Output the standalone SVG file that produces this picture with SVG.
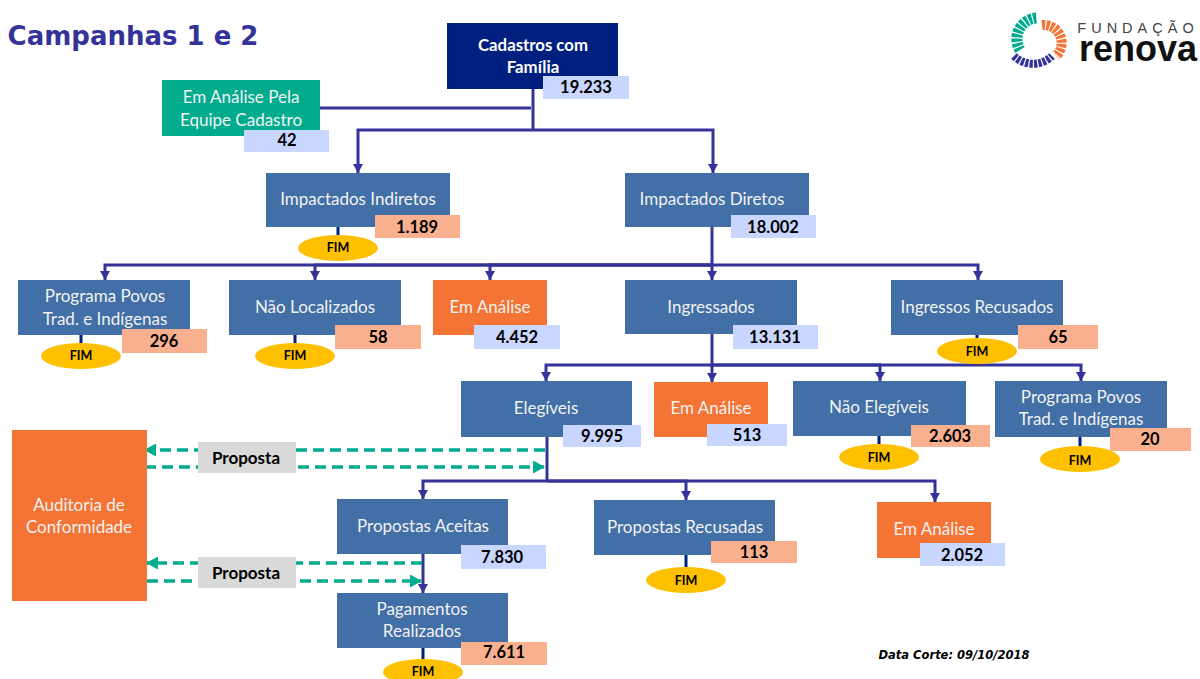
<svg xmlns="http://www.w3.org/2000/svg" width="1200" height="679" viewBox="0 0 1200 679">
<style>
text{font-family:Lato,"Open Sans",sans-serif;text-anchor:middle}
.b{fill:#416fa6}.o{fill:#f37435}.g{fill:#00ab8e}.n{fill:#00207f}
.lb{fill:#c9d6ff}.lo{fill:#f8b08e}.p{fill:#d9d9d9}
.t{fill:#f2f2f2;font-size:17px}
.v{fill:#000;font-size:16.5px;font-weight:700}
.f{fill:#000;font-size:12.5px;font-weight:700}
.e{fill:#ffc000}
.c{fill:none;stroke:#333399;stroke-width:3}
.s{fill:none;stroke:#002080;stroke-width:3}
.d{fill:none;stroke:#00ab8e;stroke-width:3.5;stroke-dasharray:11 6}
.pt{fill:#000;font-size:17px;font-weight:700}
.w{fill:#fff;font-size:16.8px;font-weight:700}
</style>
<defs>
<marker id="a" markerUnits="userSpaceOnUse" markerWidth="10" markerHeight="10" refX="9" refY="5" orient="auto"><path d="M0 0L9 5L0 10z" fill="#333399"/></marker>
<marker id="g" markerUnits="userSpaceOnUse" markerWidth="13" markerHeight="13" refX="11" refY="6.5" orient="auto"><path d="M0 0L12 6.5L0 13z" fill="#00ab8e"/></marker>
</defs>
<rect width="1200" height="679" fill="#fff"/>
<text x="133" y="45" style="font-family:'DejaVu Sans',sans-serif;font-size:26px;font-weight:700;fill:#333399">Campanhas 1 e 2</text>
<g id="logo">
<path d="M1020 50A21 21 0 0 1 1037 18" fill="none" stroke="#00ab8e" stroke-width="11" stroke-dasharray="3.2 1.2"/>
<path d="M1042 25A18 18 0 0 1 1056 56" fill="none" stroke="#f37435" stroke-width="10" stroke-dasharray="3.2 1.2"/>
<path d="M1014 56A27 27 0 0 0 1052 56" fill="none" stroke="#333399" stroke-width="8" stroke-dasharray="3.2 1.2"/>
<text x="1138" y="33" style="font-family:'Liberation Sans',sans-serif;font-size:14.5px;letter-spacing:5px;fill:#444">FUNDAÇÃO</text>
<text x="1138" y="61" style="font-family:'Liberation Sans',sans-serif;font-size:36px;font-weight:700;fill:#111">renova</text>
</g>
<g id="connectors">
<path class="c" d="M320 108H531" stroke-width="2.5"/>
<path class="c" d="M533 89V130"/>
<path class="c" marker-end="url(#a)" d="M533 130H358V173"/>
<path class="c" marker-end="url(#a)" d="M533 130H713V173"/>
<path class="c" d="M712 227V265"/>
<path class="c" marker-end="url(#a)" d="M712 265H105V280"/>
<path class="c" marker-end="url(#a)" d="M712 265H315V280"/>
<path class="c" marker-end="url(#a)" d="M712 265H490V280"/>
<path class="c" marker-end="url(#a)" d="M712 265V280"/>
<path class="c" marker-end="url(#a)" d="M712 265H978V280"/>
<path class="c" d="M712 334V367"/>
<path class="c" marker-end="url(#a)" d="M712 365H546V381"/>
<path class="c" marker-end="url(#a)" d="M712 365V382"/>
<path class="c" marker-end="url(#a)" d="M712 365H880V381"/>
<path class="c" marker-end="url(#a)" d="M712 365H1081V381"/>
<path class="c" d="M547 437V481"/>
<path class="c" marker-end="url(#a)" d="M547 481H423V499"/>
<path class="c" marker-end="url(#a)" d="M547 481H686V500"/>
<path class="c" marker-end="url(#a)" d="M547 481H935V502"/>
<path class="c" marker-end="url(#a)" d="M423 554V593"/>
<path class="d" marker-end="url(#g)" d="M545 450H145"/>
<path class="d" marker-end="url(#g)" d="M145 467H544"/>
<path class="d" marker-end="url(#g)" d="M422 563H147"/>
<path class="d" marker-end="url(#g)" d="M147 581H421"/>
<path class="s" d="M338 227V238M81 335V345M295 335V345M977 335V340M879 436V446M1080 437V448M686 555V568M423 648V660"/>
</g>
<g id="n-cadastros"><rect class="n" x="447" y="23" width="171" height="66"/><text class="w" x="533" y="51">Cadastros com</text><text class="w" x="533" y="73">Família</text><rect class="lb" x="543" y="76" width="86" height="23"/><text class="v" x="586" y="93">19.233</text></g>
<g id="n-equipe"><rect class="g" x="162" y="80" width="158" height="56"/><text class="t" x="241" y="103">Em Análise Pela</text><text class="t" x="241" y="126">Equipe Cadastro</text><rect class="lb" x="244" y="130" width="85" height="22"/><text class="v" x="287" y="146">42</text></g>
<g id="n-indiretos"><rect class="b" x="266" y="173" width="184" height="54"/><text class="t" x="358" y="205">Impactados Indiretos</text><rect class="lo" x="375" y="215" width="85" height="23"/><text class="v" x="417" y="233">1.189</text><ellipse class="e" cx="338" cy="248" rx="40" ry="13"/><text class="f" x="338" y="252">FIM</text></g>
<g id="n-diretos"><rect class="b" x="625" y="173" width="184" height="54"/><text class="t" x="712" y="205">Impactados Diretos</text><rect class="lb" x="731" y="215" width="85" height="23"/><text class="v" x="773" y="233">18.002</text></g>
<g id="n-povos1"><rect class="b" x="18" y="280" width="172" height="55"/><text class="t" x="105" y="302">Programa Povos</text><text class="t" x="105" y="325">Trad. e Indígenas</text><rect class="lo" x="122" y="329" width="85" height="24"/><text class="v" x="164" y="347">296</text><ellipse class="e" cx="81" cy="356" rx="40" ry="13"/><text class="f" x="81" y="360">FIM</text></g>
<g id="n-naoloc"><rect class="b" x="229" y="280" width="172" height="55"/><text class="t" x="315" y="313">Não Localizados</text><rect class="lo" x="335" y="325" width="86" height="24"/><text class="v" x="378" y="343">58</text><ellipse class="e" cx="295" cy="356" rx="40" ry="13"/><text class="f" x="295" y="360">FIM</text></g>
<g id="n-analise1"><rect class="o" x="433" y="280" width="114" height="55"/><text class="t" x="490" y="313">Em Análise</text><rect class="lb" x="474" y="325" width="86" height="24"/><text class="v" x="517" y="343">4.452</text></g>
<g id="n-ingressados"><rect class="b" x="625" y="280" width="172" height="54"/><text class="t" x="711" y="313">Ingressados</text><rect class="lb" x="733" y="325" width="85" height="24"/><text class="v" x="775" y="343">13.131</text></g>
<g id="n-recusados"><rect class="b" x="891" y="280" width="172" height="55"/><text class="t" x="977" y="313">Ingressos Recusados</text><rect class="lo" x="1018" y="325" width="80" height="24"/><text class="v" x="1058" y="343">65</text><ellipse class="e" cx="977" cy="351" rx="40" ry="13"/><text class="f" x="977" y="356">FIM</text></g>
<g id="n-elegiveis"><rect class="b" x="461" y="381" width="171" height="56"/><text class="t" x="546" y="414">Elegíveis</text><rect class="lb" x="563" y="425" width="78" height="22"/><text class="v" x="602" y="442">9.995</text></g>
<g id="n-analise2"><rect class="o" x="654" y="382" width="114" height="55"/><text class="t" x="711" y="414">Em Análise</text><rect class="lb" x="707" y="424" width="80" height="22"/><text class="v" x="747" y="441">513</text></g>
<g id="n-naoeleg"><rect class="b" x="793" y="381" width="173" height="55"/><text class="t" x="879" y="413">Não Elegíveis</text><rect class="lo" x="911" y="425" width="79" height="22"/><text class="v" x="950" y="442">2.603</text><ellipse class="e" cx="879" cy="457" rx="40" ry="13"/><text class="f" x="879" y="462">FIM</text></g>
<g id="n-povos2"><rect class="b" x="995" y="381" width="172" height="56"/><text class="t" x="1081" y="403">Programa Povos</text><text class="t" x="1081" y="425">Trad. e Indígenas</text><rect class="lo" x="1110" y="428" width="81" height="23"/><text class="v" x="1150" y="445">20</text><ellipse class="e" cx="1080" cy="459" rx="40" ry="13"/><text class="f" x="1080" y="465">FIM</text></g>
<g id="n-auditoria"><rect class="o" x="12" y="430" width="135" height="171"/><text class="t" x="79" y="511">Auditoria de</text><text class="t" x="79" y="533">Conformidade</text></g>
<g id="n-proposta1"><rect class="p" x="198" y="442" width="98" height="31"/><text class="pt" x="246" y="464">Proposta</text></g>
<g id="n-proposta2"><rect class="p" x="198" y="557" width="98" height="31"/><text class="pt" x="246" y="579">Proposta</text></g>
<g id="n-aceitas"><rect class="b" x="337" y="499" width="171" height="55"/><text class="t" x="423" y="532">Propostas Aceitas</text><rect class="lb" x="461" y="545" width="85" height="24"/><text class="v" x="502" y="563">7.830</text></g>
<g id="n-prorecusadas"><rect class="b" x="594" y="500" width="181" height="55"/><text class="t" x="685" y="533">Propostas Recusadas</text><rect class="lo" x="711" y="541" width="86" height="22"/><text class="v" x="754" y="558">113</text><ellipse class="e" cx="686" cy="580" rx="40" ry="13"/><text class="f" x="686" y="585">FIM</text></g>
<g id="n-analise3"><rect class="o" x="877" y="502" width="114" height="56"/><text class="t" x="934" y="535">Em Análise</text><rect class="lb" x="920" y="543" width="85" height="23"/><text class="v" x="962" y="561">2.052</text></g>
<g id="n-pagamentos"><rect class="b" x="337" y="593" width="171" height="55"/><text class="t" x="422" y="615">Pagamentos</text><text class="t" x="422" y="637">Realizados</text><rect class="lo" x="461" y="642" width="86" height="23"/><text class="v" x="504" y="658">7.611</text><ellipse class="e" cx="423" cy="672" rx="40" ry="13"/><text class="f" x="423" y="676">FIM</text></g>
<text x="954" y="659" style="font-family:'DejaVu Sans',sans-serif;font-size:11.5px;font-weight:700;font-style:italic;fill:#000">Data Corte: 09/10/2018</text>
</svg>
